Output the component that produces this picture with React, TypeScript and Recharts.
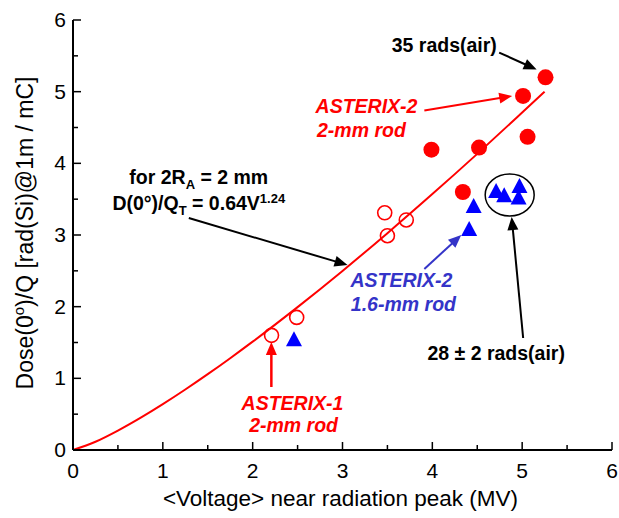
import React from 'react';
import { ComposedChart, XAxis, YAxis, Line, Scatter, ReferenceDot, ReferenceLine } from 'recharts';

const FONT = '"Liberation Sans", Arial, Helvetica, sans-serif';
const RED = '#ff0000';
const BLUE = '#0000ff';
const BLUE_TEXT = '#3434c8';

// Axis ticks
const xTicks = [0, 0.5, 1, 1.5, 2, 2.5, 3, 3.5, 4, 4.5, 5, 5.5, 6];
const yTicks = [0, 0.5, 1, 1.5, 2, 2.5, 3, 3.5, 4, 4.5, 5, 5.5, 6];

// ASTERIX-2, 2-mm rod (filled red circles)
const a2RodV = [3.99, 4.34, 4.52, 5.01, 5.06, 5.26];
const a2RodD = [4.19, 3.6, 4.22, 4.94, 4.37, 5.2];

// ASTERIX-2, 1.6-mm rod (blue triangles)
const a2SmallV = [2.46, 4.41, 4.46, 4.71, 4.8, 4.96, 4.97];
const a2SmallD = [1.53, 3.07, 3.39, 3.6, 3.54, 3.51, 3.67];

// ASTERIX-1, 2-mm rod (open red circles)
const a1V = [2.21, 2.49, 3.47, 3.5, 3.71];
const a1D = [1.6, 1.85, 3.31, 2.99, 3.21];

// Fit curve D(0)/QT = 0.64 V^1.24
const fitV = [0, 0.25, 0.5, 0.75, 1, 1.25, 1.5, 1.75, 2, 2.5, 3, 3.5, 4, 4.5, 5, 5.25];
const fitD = [0, 0.115, 0.271, 0.448, 0.64, 0.844, 1.058, 1.281, 1.512, 1.994, 2.499, 3.026, 3.571, 4.132, 4.709, 5.0];

const zip = (xs: number[], ys: number[]) => xs.map((x, i) => ({ x, y: ys[i] }));
const a2RodData = zip(a2RodV, a2RodD);
const a2SmallData = zip(a2SmallV, a2SmallD);
const a1Data = zip(a1V, a1D);
const fitData = zip(fitV, fitD);

const FilledCircle = (p: any) => <circle cx={p.cx} cy={p.cy} r={8} fill={RED} />;
const OpenCircle = (p: any) => (
  <circle cx={p.cx} cy={p.cy} r={7} fill="none" stroke={RED} strokeWidth={1.6} />
);
const Triangle = (p: any) => (
  <polygon
    points={`${p.cx},${p.cy - 9} ${p.cx - 8},${p.cy + 6} ${p.cx + 8},${p.cy + 6}`}
    fill={BLUE}
  />
);

const isMajor = (v: number) => Math.abs(v - Math.round(v)) < 1e-6;

const BottomTick = (p: any) => {
  const v = p.payload.value;
  const m = isMajor(v);
  return (
    <g>
      <line x1={p.x} y1={p.y} x2={p.x} y2={p.y - (m ? 8 : 5)} stroke="#000" strokeWidth={1.5} />
      {m && (
        <text x={p.x} y={p.y + 28} textAnchor="middle" fontSize={21} fontFamily={FONT} fill="#000">
          {v}
        </text>
      )}
    </g>
  );
};
const TopTick = (p: any) => {
  const v = p.payload.value;
  const m = isMajor(v);
  return <line x1={p.x} y1={p.y} x2={p.x} y2={p.y + (m ? 8 : 5)} stroke="#000" strokeWidth={1.5} />;
};
const LeftTick = (p: any) => {
  const v = p.payload.value;
  const m = isMajor(v);
  return (
    <g>
      <line x1={p.x} y1={p.y} x2={p.x + (m ? 8 : 5)} y2={p.y} stroke="#000" strokeWidth={1.5} />
      {m && (
        <text x={p.x - 7} y={p.y + 7} textAnchor="end" fontSize={21} fontFamily={FONT} fill="#000">
          {v}
        </text>
      )}
    </g>
  );
};
const RightTick = (p: any) => {
  const v = p.payload.value;
  const m = isMajor(v);
  return <line x1={p.x} y1={p.y} x2={p.x - (m ? 8 : 5)} y2={p.y} stroke="#000" strokeWidth={1.5} />;
};

const arrow = (color: string, w: number) => (p: any) => {
  const { x1, y1, x2, y2 } = p;
  const dx = x2 - x1;
  const dy = y2 - y1;
  const len = Math.hypot(dx, dy) || 1;
  const ux = dx / len;
  const uy = dy / len;
  const hl = 13;
  const hw = 5.5;
  const bx = x2 - ux * hl;
  const by = y2 - uy * hl;
  return (
    <g>
      <line x1={x1} y1={y1} x2={bx + ux * 2} y2={by + uy * 2} stroke={color} strokeWidth={w} />
      <polygon
        points={`${x2},${y2} ${bx - uy * hw},${by + ux * hw} ${bx + uy * hw},${by - ux * hw}`}
        fill={color}
      />
    </g>
  );
};

const textShape =
  (lines: React.ReactNode, color: string, italic: boolean, anchor: string = 'middle') =>
  (p: any) => (
    <text
      x={p.cx}
      y={p.cy}
      textAnchor={anchor}
      fontSize={19.5}
      fontWeight="bold"
      fontStyle={italic ? 'italic' : 'normal'}
      fontFamily={FONT}
      fill={color}
    >
      {lines}
    </text>
  );

const EllipseShape = (p: any) => (
  <ellipse cx={p.cx} cy={p.cy} rx={24.5} ry={21} fill="none" stroke="#000" strokeWidth={1.5} />
);

const XLabel = (p: any) => {
  const vb = p.viewBox || { x: 73, y: 450, width: 540, height: 68 };
  return (
    <text
      x={vb.x + vb.width / 2 - 2}
      y={vb.y + 56}
      textAnchor="middle"
      fontSize={22.5}
      fontFamily={FONT}
      fill="#000"
    >
      {'<Voltage> near radiation peak (MV)'}
    </text>
  );
};

const YLabel = (p: any) => {
  const vb = p.viewBox || { x: 0, y: 20, width: 73, height: 430 };
  const cx = vb.x + 33;
  const cy = vb.y + vb.height / 2 - 2;
  return (
    <text
      x={cx}
      y={cy}
      transform={`rotate(-90, ${cx}, ${cy})`}
      textAnchor="middle"
      fontSize={23}
      fontFamily={FONT}
      fill="#000"
    >
      Dose(0
      <tspan dy={-9} fontSize={15}>
        o
      </tspan>
      <tspan dy={9}>)/Q [rad(Si)@1m / mC]</tspan>
    </text>
  );
};

export default function App() {
  return (
    <div style={{ position: 'absolute', left: 0, top: 0, background: '#fff' }}>
      <ComposedChart width={619} height={518} margin={{ top: 20, right: 7, bottom: 0, left: 0 }}>
        <XAxis
          dataKey="x"
          type="number"
          domain={[0, 6]}
          ticks={xTicks}
          interval={0}
          height={68}
          tickSize={0}
          tickMargin={0}
          tickLine={false}
          axisLine={{ stroke: '#000', strokeWidth: 2 }}
          tick={BottomTick}
          label={{ content: XLabel }}
        />
        <XAxis
          xAxisId="top"
          orientation="top"
          type="number"
          domain={[0, 6]}
          ticks={xTicks}
          interval={0}
          height={0}
          tickSize={0}
          tickMargin={0}
          tickLine={false}
          axisLine={{ stroke: '#000', strokeWidth: 2 }}
          tick={TopTick}
        />
        <YAxis
          type="number"
          domain={[0, 6]}
          ticks={yTicks}
          interval={0}
          width={73}
          tickSize={0}
          tickMargin={0}
          tickLine={false}
          axisLine={{ stroke: '#000', strokeWidth: 2 }}
          tick={LeftTick}
          label={{ content: YLabel }}
        />
        <YAxis
          yAxisId="right"
          orientation="right"
          type="number"
          domain={[0, 6]}
          ticks={yTicks}
          interval={0}
          width={0}
          tickSize={0}
          tickMargin={0}
          tickLine={false}
          axisLine={{ stroke: '#000', strokeWidth: 2 }}
          tick={RightTick}
        />

        <Line
          data={fitData}
          dataKey="y"
          type="monotone"
          stroke={RED}
          strokeWidth={2}
          dot={false}
          activeDot={false}
          isAnimationActive={false}
        />
        <Scatter data={a1Data} dataKey="y" shape={OpenCircle} isAnimationActive={false} />
        <Scatter data={a2RodData} dataKey="y" shape={FilledCircle} isAnimationActive={false} />
        <Scatter data={a2SmallData} dataKey="y" shape={Triangle} isAnimationActive={false} />

        {/* ellipse around the 28 rads cluster */}
        <ReferenceDot x={4.861} y={3.558} r={0} shape={EllipseShape} />

        {/* arrows */}
        <ReferenceLine segment={[{ x: 4.744, y: 5.546 }, { x: 5.161, y: 5.309 }]} shape={arrow('#000', 2)} />
        <ReferenceLine segment={[{ x: 3.911, y: 4.737 }, { x: 4.889, y: 4.94 }]} shape={arrow(RED, 2)} />
        <ReferenceLine segment={[{ x: 1.289, y: 3.237 }, { x: 3.056, y: 2.581 }]} shape={arrow('#000', 2)} />
        <ReferenceLine segment={[{ x: 3.911, y: 2.526 }, { x: 4.322, y: 3.0 }]} shape={arrow(BLUE_TEXT, 2)} />
        <ReferenceLine segment={[{ x: 5.011, y: 1.563 }, { x: 4.883, y: 3.251 }]} shape={arrow('#000', 2)} />
        <ReferenceLine segment={[{ x: 2.208, y: 0.879 }, { x: 2.208, y: 1.507 }]} shape={arrow(RED, 2.5)} />

        {/* text annotations */}
        <ReferenceDot x={4.133} y={5.553} r={0} shape={textShape('35 rads(air)', '#000', false)} />
        <ReferenceDot x={3.267} y={4.702} r={0} shape={textShape('ASTERIX-2', RED, true)} />
        <ReferenceDot x={3.211} y={4.367} r={0} shape={textShape('2-mm rod', RED, true)} />
        <ReferenceDot
          x={1.4}
          y={3.712}
          r={0}
          shape={textShape(
            <>
              for 2R
              <tspan dy={5} fontSize={13}>
                A
              </tspan>
              <tspan dy={-5}> = 2 mm</tspan>
            </>,
            '#000',
            false
          )}
        />
        <ReferenceDot
          x={1.4}
          y={3.349}
          r={0}
          shape={textShape(
            <>
              D(0°)/Q
              <tspan dy={5} fontSize={13}>
                T
              </tspan>
              <tspan dy={-5}> = 0.64V</tspan>
              <tspan dy={-7} fontSize={13}>
                1.24
              </tspan>
            </>,
            '#000',
            false
          )}
        />
        <ReferenceDot x={3.656} y={2.274} r={0} shape={textShape('ASTERIX-2', BLUE_TEXT, true)} />
        <ReferenceDot x={3.678} y={1.94} r={0} shape={textShape('1.6-mm rod', BLUE_TEXT, true)} />
        <ReferenceDot x={4.711} y={1.256} r={0} shape={textShape('28 ± 2 rads(air)', '#000', false)} />
        <ReferenceDot x={2.444} y={0.558} r={0} shape={textShape('ASTERIX-1', RED, true)} />
        <ReferenceDot x={2.456} y={0.251} r={0} shape={textShape('2-mm rod', RED, true)} />
      </ComposedChart>
    </div>
  );
}
